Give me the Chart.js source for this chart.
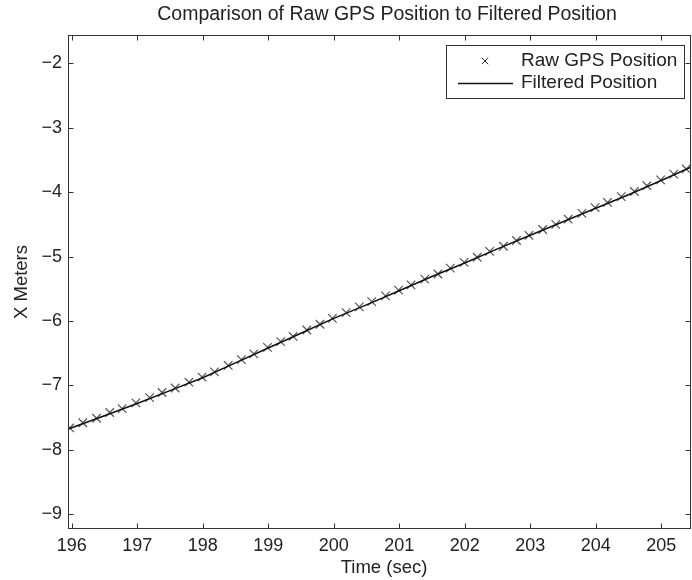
<!DOCTYPE html>
<html>
<head>
<meta charset="utf-8">
<script src="https://cdn.jsdelivr.net/npm/chart.js@4/dist/chart.umd.min.js"></script>
<style>
  html, body { margin: 0; padding: 0; background: #fff; }
  #wrap { width: 692px; height: 580px; }
</style>
</head>
<body>
<div id="wrap"><canvas id="c" width="692" height="580"></canvas></div>
<script>
// Raw GPS fixes (time in seconds, X position in meters)
const gpsTime = [
  195.97, 196.17, 196.38, 196.58, 196.77, 196.98, 197.19, 197.38, 197.58, 197.79,
  197.99, 198.18, 198.39, 198.59, 198.78, 198.99, 199.19, 199.38, 199.59, 199.79,
  199.98, 200.19, 200.39, 200.58, 200.79, 200.99, 201.18, 201.39, 201.59, 201.78,
  201.99, 202.19, 202.38, 202.59, 202.79, 202.98, 203.19, 203.39, 203.58, 203.79,
  203.99, 204.18, 204.39, 204.59, 204.78, 204.99, 205.19, 205.38
];
const gpsX = [
  -7.66, -7.58, -7.51, -7.42, -7.36, -7.27, -7.19, -7.11, -7.04, -6.95,
  -6.87, -6.79, -6.69, -6.60, -6.51, -6.41, -6.32, -6.24, -6.14, -6.05,
  -5.96, -5.87, -5.78, -5.70, -5.61, -5.52, -5.44, -5.35, -5.27, -5.18,
  -5.09, -5.01, -4.92, -4.84, -4.75, -4.67, -4.58, -4.50, -4.42, -4.33,
  -4.24, -4.16, -4.07, -3.99, -3.90, -3.81, -3.72, -3.64
];

// Filter output
const filtTime = [
  195.94, 196.5, 197.0, 197.5, 198.0, 198.5, 199.0, 199.5, 200.0, 200.5,
  201.0, 201.5, 202.0, 202.5, 203.0, 203.5, 204.0, 204.5, 205.0, 205.5
];
const filtX = [
  -7.68, -7.47, -7.28, -7.08, -6.88, -6.65, -6.42, -6.19, -5.96, -5.75,
  -5.53, -5.31, -5.10, -4.88, -4.67, -4.46, -4.25, -4.04, -3.82, -3.59
];

const xTicks = [196, 197, 198, 199, 200, 201, 202, 203, 204, 205];
const yTicks = [-9, -8, -7, -6, -5, -4, -3, -2];

const titleText = 'Comparison of Raw GPS Position to Filtered Position';
const xLabel = 'Time (sec)';
const yLabel = 'X Meters';

const FONT = '"Liberation Sans", Arial, Helvetica, sans-serif';
const INK = '#222';

const toPoints = (xs, ys) => xs.map((x, i) => ({ x: x, y: ys[i] }));

// Frame, inward ticks, axis titles, title and legend box
const decorations = {
  id: 'decorations',
  afterDatasetsDraw(chart) {
    const ctx = chart.ctx;
    const a = chart.chartArea;
    const xs = chart.scales.x, ys = chart.scales.y;
    const L = Math.round(a.left) + 0.5, R = Math.round(a.right) - 0.5;
    const T = Math.round(a.top) + 0.5, B = Math.round(a.bottom) + 0.5;
    ctx.save();
    ctx.strokeStyle = '#333';
    ctx.lineWidth = 1;
    ctx.strokeRect(L, T, R - L, B - T);
    const tl = 5;
    ctx.beginPath();
    xTicks.forEach(v => {
      const px = Math.round(xs.getPixelForValue(v)) + 0.5;
      ctx.moveTo(px, B); ctx.lineTo(px, B - tl);
      ctx.moveTo(px, T); ctx.lineTo(px, T + tl);
    });
    yTicks.forEach(v => {
      const py = Math.round(ys.getPixelForValue(v)) + 0.5;
      ctx.moveTo(L, py); ctx.lineTo(L + tl, py);
      ctx.moveTo(R, py); ctx.lineTo(R - tl, py);
    });
    ctx.stroke();

    // title and axis titles
    ctx.fillStyle = INK;
    ctx.textAlign = 'center';
    ctx.textBaseline = 'middle';
    ctx.font = '19.5px ' + FONT;
    ctx.fillText(titleText, 387, 15);
    ctx.font = '18.5px ' + FONT;
    ctx.fillText(xLabel, 384, 568);
    ctx.save();
    ctx.translate(22, 282);
    ctx.rotate(-Math.PI / 2);
    ctx.fillText(yLabel, 0, 0);
    ctx.restore();

    // legend
    const ds = chart.data.datasets;
    ctx.fillStyle = '#fff';
    ctx.fillRect(446.5, 45.5, 238, 53);
    ctx.strokeStyle = '#333';
    ctx.strokeRect(446.5, 45.5, 238, 53);
    Chart.helpers.drawPoint(ctx, {
      pointStyle: 'crossRot', radius: 4.5, rotation: 0,
      borderWidth: 1, borderColor: ds[0].borderColor
    }, 485, 61);
    ctx.strokeStyle = ds[1].borderColor;
    ctx.lineWidth = ds[1].borderWidth;
    ctx.beginPath();
    ctx.moveTo(458, 83.5); ctx.lineTo(513, 83.5);
    ctx.stroke();
    ctx.fillStyle = INK;
    ctx.textAlign = 'left';
    ctx.font = '19px ' + FONT;
    ctx.fillText(ds[0].label, 521, 61);
    ctx.fillText(ds[1].label, 521, 83);
    ctx.restore();
  }
};

new Chart(document.getElementById('c'), {
  type: 'scatter',
  data: {
    datasets: [
      {
        label: 'Raw GPS Position',
        data: toPoints(gpsTime, gpsX),
        showLine: false,
        pointStyle: 'crossRot',
        pointRadius: 6,
        pointBorderWidth: 1.2,
        borderColor: '#555',
        backgroundColor: '#555',
        order: 2
      },
      {
        label: 'Filtered Position',
        data: toPoints(filtTime, filtX),
        showLine: true,
        pointRadius: 0,
        borderWidth: 1.5,
        borderColor: '#111',
        tension: 0,
        order: 1
      }
    ]
  },
  options: {
    responsive: false,
    animation: false,
    devicePixelRatio: 1,
    layout: { autoPadding: false, padding: { left: 0, top: 35, right: 1, bottom: 0 } },
    plugins: {
      legend: { display: false },
      title: { display: false },
      tooltip: { enabled: false }
    },
    scales: {
      x: {
        type: 'linear',
        min: 195.944,
        max: 205.454,
        afterBuildTicks: s => { s.ticks = xTicks.map(v => ({ value: v })); },
        afterFit: s => { s.height = 52; s.paddingLeft = 0; s.paddingRight = 0; },
        grid: { display: false, drawTicks: false },
        border: { display: false },
        ticks: {
          padding: 7,
          color: INK,
          font: { family: FONT, size: 18 },
          maxRotation: 0,
          callback: v => String(v)
        }
      },
      y: {
        type: 'linear',
        min: -9.213,
        max: -1.561,
        afterBuildTicks: s => { s.ticks = yTicks.map(v => ({ value: v })); },
        afterFit: s => { s.width = 68; s.paddingTop = 0; s.paddingBottom = 0; },
        grid: { display: false, drawTicks: false },
        border: { display: false },
        ticks: {
          padding: 6,
          color: INK,
          font: { family: FONT, size: 18 },
          callback: v => (v < 0 ? '\u2212' + Math.abs(v) : String(v))
        }
      }
    }
  },
  plugins: [decorations]
});
</script>
</body>
</html>
